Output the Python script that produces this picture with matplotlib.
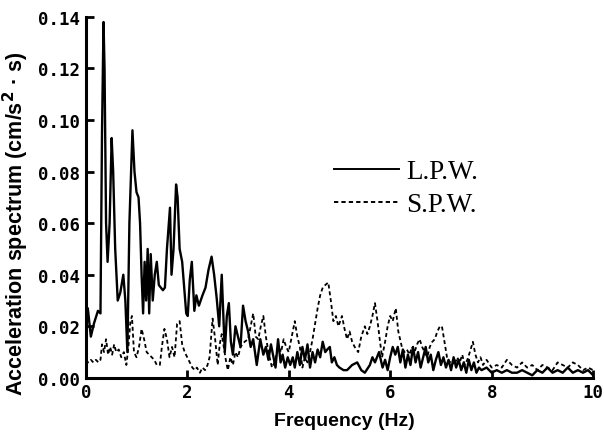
import matplotlib
matplotlib.use("Agg")
import matplotlib.pyplot as plt

# ---------------- data ----------------
lpw_freq = [0.00, 0.04, 0.10, 0.16, 0.24, 0.29, 0.32, 0.35, 0.37, 0.40, 0.43, 0.47, 0.51, 0.54,
            0.58, 0.63, 0.68, 0.74, 0.78, 0.82, 0.86, 0.92, 0.96, 1.00, 1.04, 1.07, 1.10, 1.13,
            1.16, 1.19, 1.22, 1.25, 1.28, 1.32, 1.36, 1.40, 1.44, 1.48, 1.52, 1.56, 1.60, 1.66,
            1.69, 1.73, 1.78, 1.81, 1.85, 1.90, 1.94, 1.98, 2.01, 2.05, 2.09, 2.14, 2.18, 2.23,
            2.30, 2.36, 2.42, 2.48, 2.53, 2.58, 2.63, 2.68, 2.74, 2.78, 2.82, 2.86, 2.90, 2.95,
            3.00, 3.05, 3.10, 3.15, 3.20, 3.25, 3.30, 3.37, 3.44, 3.50, 3.55, 3.60, 3.65, 3.70,
            3.74, 3.79, 3.84, 3.88, 3.93, 3.98, 4.03, 4.08, 4.12, 4.17, 4.22, 4.27, 4.32, 4.37,
            4.42, 4.47, 4.52, 4.57, 4.62, 4.67, 4.72, 4.76, 4.81, 4.85, 4.90, 4.95, 5.00, 5.08,
            5.15, 5.25, 5.35, 5.43, 5.50, 5.60, 5.65, 5.70, 5.78, 5.85, 5.90, 5.95, 6.00, 6.05,
            6.10, 6.15, 6.20, 6.25, 6.30, 6.35, 6.40, 6.45, 6.50, 6.55, 6.60, 6.65, 6.70, 6.75,
            6.80, 6.85, 6.90, 6.95, 7.00, 7.05, 7.10, 7.15, 7.20, 7.25, 7.30, 7.35, 7.40, 7.45,
            7.50, 7.55, 7.60, 7.65, 7.70, 7.75, 7.80, 7.90, 8.00, 8.10, 8.20, 8.30, 8.40, 8.50,
            8.60, 8.70, 8.80, 8.90, 9.00, 9.10, 9.20, 9.30, 9.40, 9.50, 9.60, 9.70, 9.80, 9.90,
            10.00]
lpw_value = [0.020, 0.027, 0.016, 0.021, 0.026, 0.025, 0.095, 0.138, 0.120, 0.060, 0.045, 0.060, 0.093, 0.080,
             0.050, 0.030, 0.033, 0.040, 0.030, 0.010, 0.060, 0.096, 0.080, 0.072, 0.070, 0.060, 0.040, 0.025,
             0.045, 0.030, 0.050, 0.025, 0.048, 0.030, 0.040, 0.045, 0.036, 0.035, 0.034, 0.035, 0.050, 0.066,
             0.040, 0.050, 0.075, 0.070, 0.050, 0.045, 0.035, 0.025, 0.024, 0.038, 0.045, 0.026, 0.032, 0.028,
             0.032, 0.035, 0.042, 0.047, 0.040, 0.031, 0.020, 0.040, 0.010, 0.024, 0.029, 0.014, 0.009, 0.020,
             0.016, 0.012, 0.028, 0.022, 0.018, 0.012, 0.015, 0.005, 0.015, 0.009, 0.012, 0.007, 0.013, 0.008,
             0.004, 0.015, 0.006, 0.009, 0.004, 0.008, 0.005, 0.008, 0.004, 0.010, 0.005, 0.012, 0.007, 0.013,
             0.004, 0.010, 0.006, 0.011, 0.008, 0.014, 0.010, 0.011, 0.012, 0.006, 0.008, 0.005, 0.004, 0.003,
             0.003, 0.005, 0.006, 0.003, 0.002, 0.005, 0.008, 0.006, 0.010, 0.004, 0.007, 0.003, 0.008, 0.012,
             0.009, 0.012, 0.006, 0.011, 0.004, 0.009, 0.005, 0.012, 0.006, 0.010, 0.004, 0.008, 0.012, 0.006,
             0.009, 0.003, 0.007, 0.010, 0.005, 0.008, 0.004, 0.007, 0.003, 0.008, 0.004, 0.007, 0.003, 0.006,
             0.002, 0.007, 0.003, 0.006, 0.002, 0.004, 0.003, 0.004, 0.002, 0.003, 0.002, 0.003, 0.002, 0.002,
             0.003, 0.002, 0.001, 0.003, 0.002, 0.004, 0.002, 0.003, 0.002, 0.004, 0.002, 0.003, 0.002, 0.003,
             0.001]

spw_freq = [0.00, 0.05, 0.10, 0.15, 0.20, 0.25, 0.29, 0.32, 0.36, 0.40, 0.44, 0.48, 0.52, 0.56,
            0.60, 0.65, 0.70, 0.75, 0.80, 0.84, 0.88, 0.91, 0.95, 1.00, 1.05, 1.10, 1.15, 1.20,
            1.25, 1.30, 1.35, 1.40, 1.46, 1.50, 1.55, 1.60, 1.65, 1.70, 1.75, 1.80, 1.85, 1.90,
            1.95, 2.00, 2.05, 2.10, 2.15, 2.19, 2.25, 2.30, 2.35, 2.40, 2.44, 2.50, 2.55, 2.60,
            2.64, 2.68, 2.72, 2.76, 2.80, 2.85, 2.90, 2.95, 3.00, 3.05, 3.13, 3.20, 3.25, 3.30,
            3.35, 3.40, 3.45, 3.50, 3.55, 3.60, 3.67, 3.72, 3.80, 3.85, 3.90, 3.95, 4.00, 4.06,
            4.12, 4.17, 4.22, 4.27, 4.32, 4.37, 4.42, 4.47, 4.52, 4.57, 4.62, 4.67, 4.72, 4.78,
            4.83, 4.88, 4.93, 4.98, 5.05, 5.10, 5.15, 5.20, 5.25, 5.30, 5.37, 5.43, 5.50, 5.55,
            5.60, 5.65, 5.70, 5.75, 5.80, 5.84, 5.90, 5.95, 6.00, 6.05, 6.11, 6.16, 6.23, 6.28,
            6.33, 6.38, 6.43, 6.48, 6.53, 6.58, 6.63, 6.68, 6.73, 6.78, 6.83, 6.88, 6.93, 6.98,
            7.02, 7.07, 7.12, 7.17, 7.22, 7.27, 7.32, 7.37, 7.42, 7.47, 7.52, 7.57, 7.63, 7.68,
            7.73, 7.78, 7.83, 7.90, 8.00, 8.10, 8.20, 8.30, 8.40, 8.50, 8.60, 8.70, 8.80, 8.90,
            9.00, 9.10, 9.20, 9.30, 9.40, 9.50, 9.60, 9.70, 9.80, 9.90, 10.00]
spw_value = [0.007, 0.006, 0.007, 0.006, 0.007, 0.006, 0.007, 0.013, 0.010, 0.015, 0.009, 0.012, 0.009, 0.013,
             0.010, 0.011, 0.008, 0.010, 0.005, 0.012, 0.022, 0.024, 0.010, 0.008, 0.012, 0.019, 0.015, 0.010,
             0.009, 0.008, 0.007, 0.005, 0.005, 0.012, 0.019, 0.015, 0.008, 0.012, 0.008, 0.021, 0.022, 0.013,
             0.010, 0.008, 0.006, 0.004, 0.003, 0.004, 0.002, 0.004, 0.003, 0.005, 0.008, 0.023, 0.015, 0.005,
             0.013, 0.017, 0.012, 0.007, 0.003, 0.008, 0.005, 0.010, 0.008, 0.012, 0.014, 0.015, 0.020, 0.025,
             0.016, 0.015, 0.020, 0.024, 0.016, 0.010, 0.004, 0.006, 0.012, 0.010, 0.015, 0.012, 0.010, 0.016,
             0.022, 0.016, 0.012, 0.004, 0.008, 0.006, 0.010, 0.015, 0.021, 0.027, 0.032, 0.035, 0.036, 0.037,
             0.030, 0.022, 0.024, 0.020, 0.024, 0.019, 0.015, 0.018, 0.014, 0.012, 0.010, 0.016, 0.020, 0.017,
             0.020, 0.024, 0.029, 0.022, 0.014, 0.008, 0.014, 0.020, 0.024, 0.022, 0.027, 0.018, 0.012, 0.010,
             0.011, 0.009, 0.012, 0.010, 0.013, 0.015, 0.012, 0.010, 0.008, 0.012, 0.014, 0.015, 0.018, 0.020,
             0.020, 0.014, 0.008, 0.006, 0.007, 0.005, 0.008, 0.006, 0.009, 0.005, 0.007, 0.010, 0.014, 0.009,
             0.006, 0.008, 0.005, 0.007, 0.004, 0.005, 0.004, 0.007, 0.005, 0.004, 0.006, 0.004, 0.005, 0.003,
             0.005, 0.004, 0.003, 0.006, 0.005, 0.004, 0.006, 0.005, 0.003, 0.004, 0.003]

x_ticks = [0, 2, 4, 6, 8, 10]
y_ticks = [0.00, 0.02, 0.04, 0.06, 0.08, 0.10, 0.12, 0.14]
series_labels = ["L.P.W.", "S.P.W."]

# ---------------- figure ----------------
fig = plt.figure(figsize=(6.04, 4.35), dpi=100)
ax = fig.add_axes([0.142, 0.129, 0.84, 0.83])

ax.plot(lpw_freq, lpw_value, color="black", lw=1.7, ls="-", label=series_labels[0])
ax.plot(spw_freq, spw_value, color="black", lw=1.3, ls=(0, (2.2, 1.6)), label=series_labels[1])

ax.set_xlim(0, 10)
ax.set_ylim(0, 0.14)
ax.set_xticks(x_ticks)
ax.set_yticks(y_ticks)
ax.set_xticklabels([str(t) for t in x_ticks])
ax.set_yticklabels([f"{t:.2f}" for t in y_ticks])

for s in ["top", "right"]:
    ax.spines[s].set_visible(False)
for s in ["left", "bottom"]:
    ax.spines[s].set_linewidth(2.2)

ax.tick_params(direction="in", length=6, width=2, pad=4)
for lab in ax.get_xticklabels() + ax.get_yticklabels():
    lab.set_fontfamily("DejaVu Sans Mono")
    lab.set_fontweight("bold")
    lab.set_fontsize(12.5)

ax.set_xlabel("Frequency (Hz)", fontsize=14, fontweight="bold",
              family="Liberation Sans")
ax.xaxis.set_label_coords(0.51, -0.095)
ax.set_ylabel("Acceleration spectrum (cm/s$^{\\mathbf{2}}$ · s)", fontsize=15.5,
              fontweight="bold", family="Liberation Sans")
ax.yaxis.set_label_coords(-0.108, 0.43)

leg = ax.legend(loc="upper left", bbox_to_anchor=(0.49, 0.605), frameon=False,
                prop={"family": "Liberation Serif", "size": 19.5},
                handlelength=2.4, handletextpad=0.25, labelspacing=0.28,
                borderaxespad=0, borderpad=0)
for h in leg.get_lines():
    h.set_linewidth(1.4)

fig.savefig("out.png", dpi=100)
